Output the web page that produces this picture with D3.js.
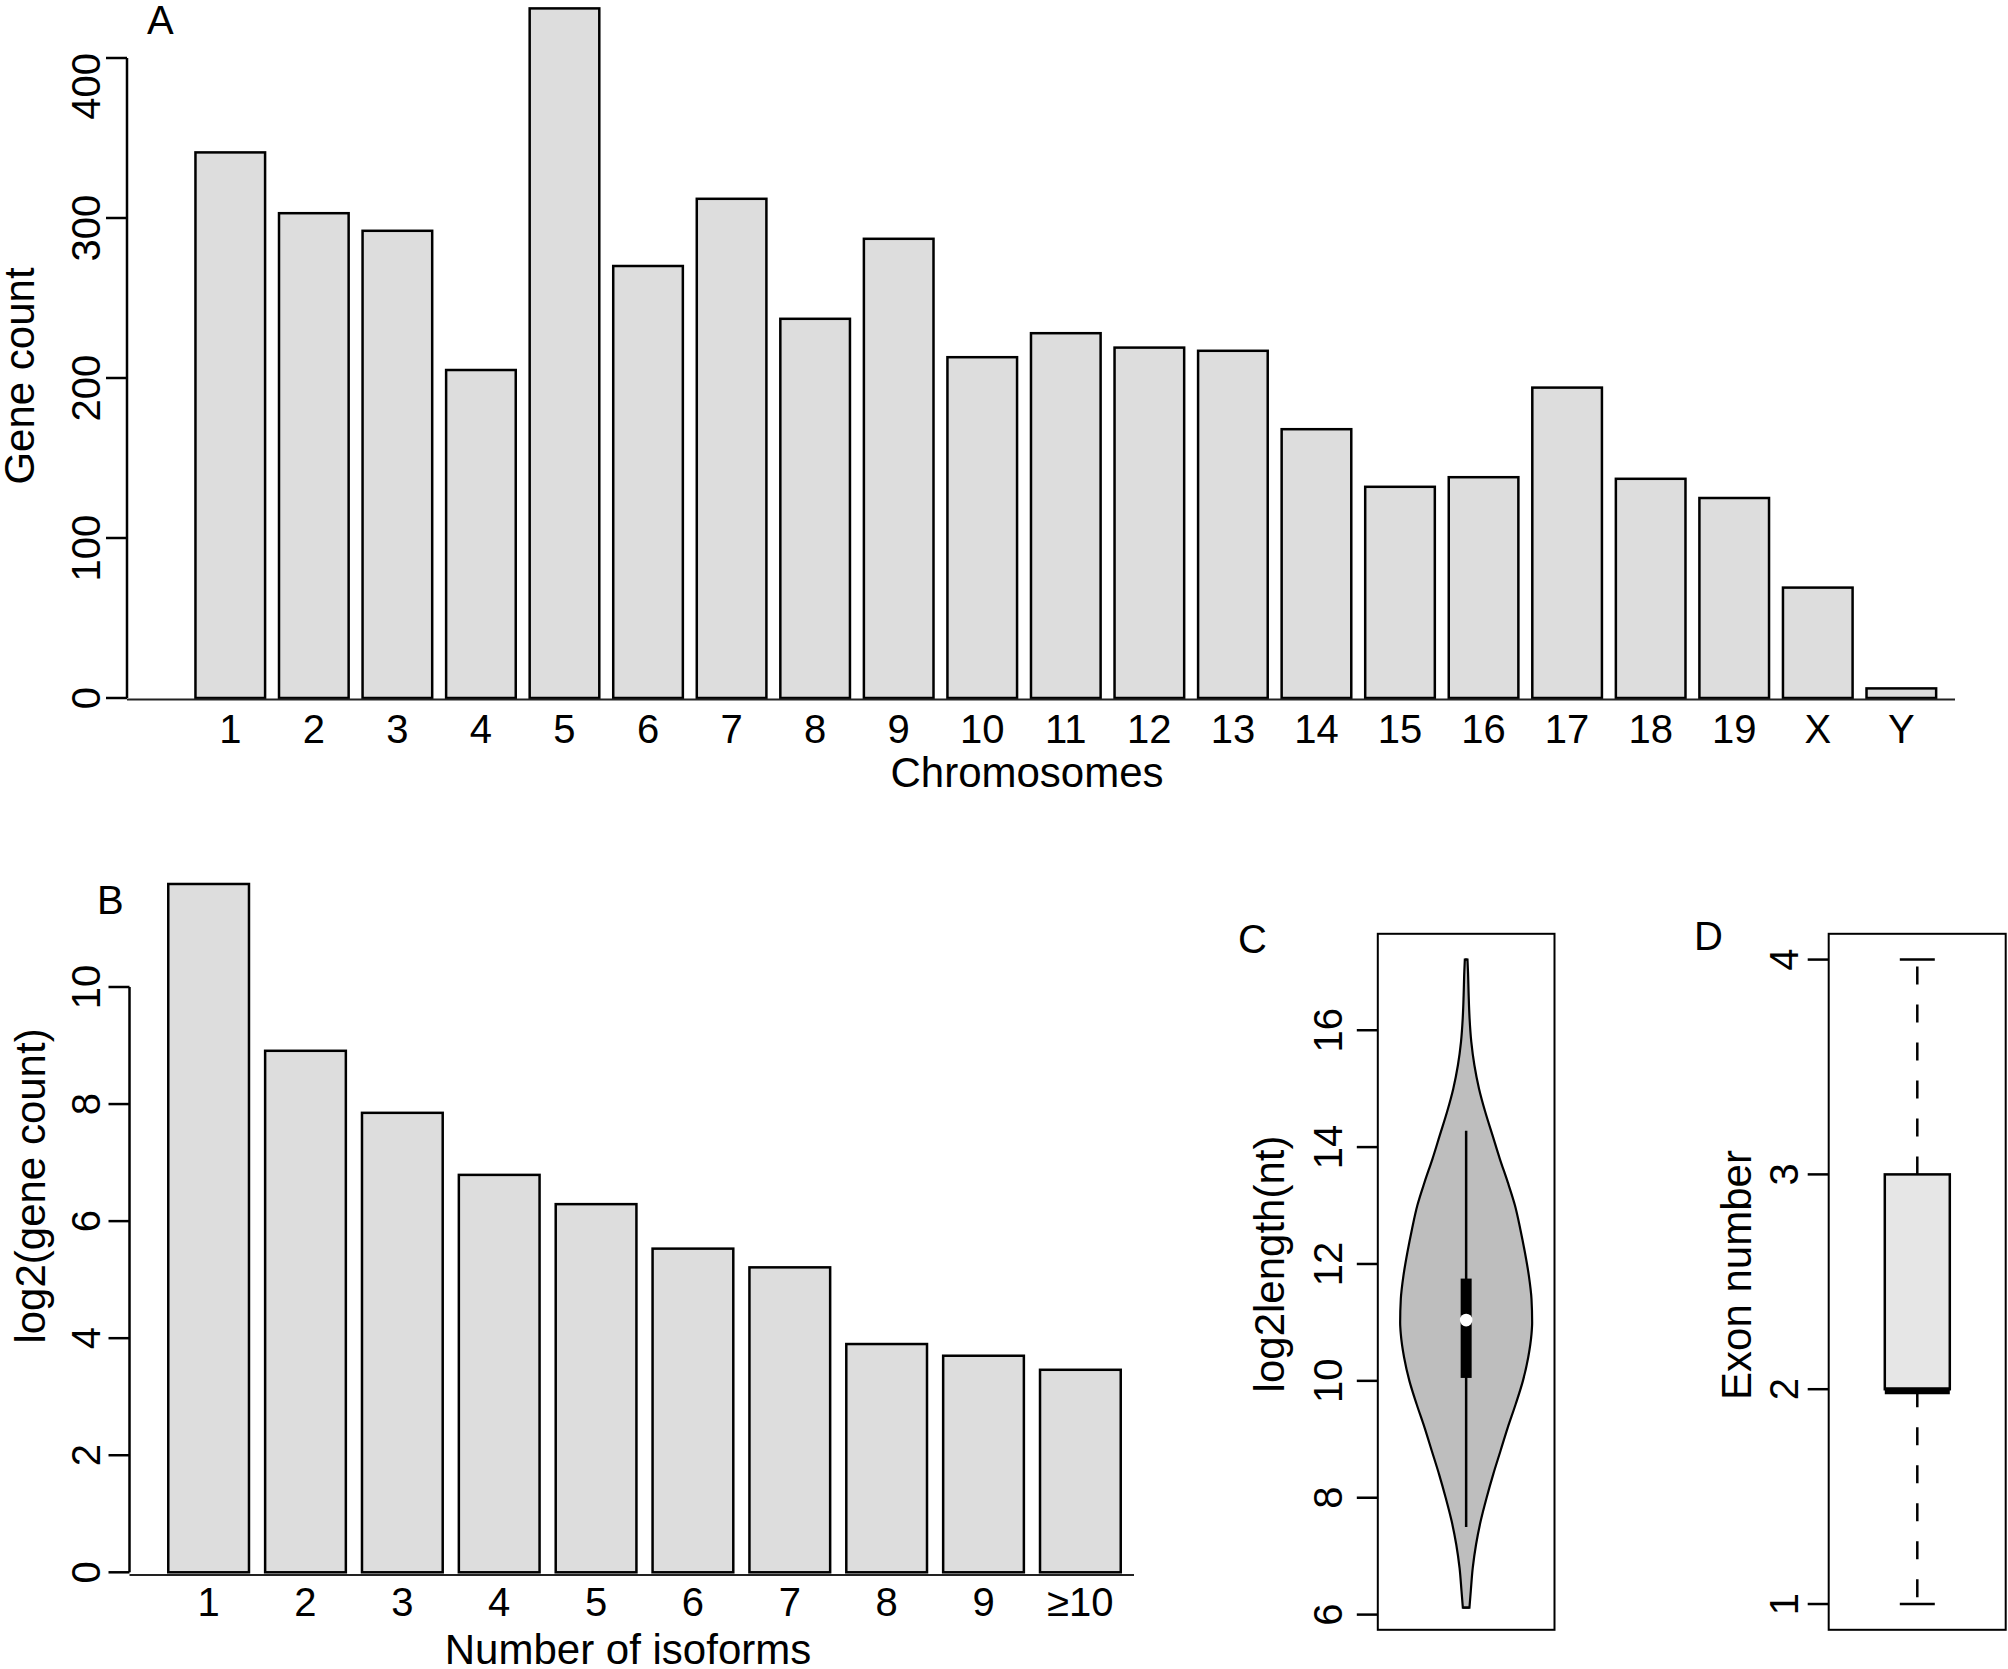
<!DOCTYPE html>
<html>
<head>
<meta charset="utf-8">
<script src="https://cdn.jsdelivr.net/npm/d3@7"></script>
<style>
  html, body { margin: 0; padding: 0; background: #fff; }
  svg { display: block; font-family: "Liberation Sans", Arial, Helvetica, sans-serif; }
</style>
</head>
<body>
<svg id="chart" width="2008" height="1669"></svg>
<script>
// ---------------- DATA ----------------
const chromosomes = ["1","2","3","4","5","6","7","8","9","10","11","12","13","14","15","16","17","18","19","X","Y"];
const geneCounts  = [341, 303, 292, 205, 431, 270, 312, 237, 287, 213, 228, 219, 217, 168, 132, 138, 194, 137, 125, 69, 6];
const countTicks  = [0, 100, 200, 300, 400];

const isoformLabels   = ["1","2","3","4","5","6","7","8","9","\u226510"];
const log2GeneCounts  = [11.76, 8.91, 7.85, 6.79, 6.29, 5.53, 5.21, 3.90, 3.70, 3.46];
const log2CountTicks  = [0, 2, 4, 6, 8, 10];

// violin of log2 transcript length: evaluation points and relative density
const violinLog2Length = [6.12, 6.4, 6.8, 7.2, 7.6, 8.0, 8.4, 8.8, 9.2, 9.6, 10.0, 10.4, 10.8, 11.0,
                          11.4, 11.8, 12.2, 12.6, 13.0, 13.4, 13.8, 14.2, 14.6, 15.0, 15.4, 15.8, 16.2, 16.6, 17.0, 17.21];
const violinDensity    = [0.05, 0.07, 0.10, 0.15, 0.22, 0.31, 0.41, 0.52, 0.63, 0.75, 0.86, 0.94, 0.99, 1.0,
                          0.99, 0.95, 0.89, 0.82, 0.74, 0.63, 0.51, 0.40, 0.29, 0.195, 0.125, 0.078, 0.052, 0.038, 0.028, 0.02];
const lengthSummary    = [7.5, 10.05, 11.04, 11.75, 14.28];   // whisker low, q1, median, q3, whisker high
const lengthTicks      = [6, 8, 10, 12, 14, 16];

const exonSummary = [1, 2, 2, 3, 4];   // min, q1, median, q3, max
const exonTicks   = [1, 2, 3, 4];

// ---------------- STYLE ----------------
const FONT_TICK = 40, FONT_LAB = 42, FONT_PANEL = 40;
const BAR_FILL = "#dddddd", VIOLIN_FILL = "#bebebe", BOX_FILL = "#e6e6e6";
const LW = 2.5;

const svg = d3.select("#chart");

function rotLabel(g, x, y, txt, size) {
  return g.append("text")
    .attr("transform", `translate(${x},${y}) rotate(-90)`)
    .attr("text-anchor", "middle")
    .attr("font-size", size)
    .text(txt);
}
function label(g, x, y, txt, size, anchor) {
  return g.append("text").attr("x", x).attr("y", y)
    .attr("text-anchor", anchor || "middle")
    .attr("font-size", size).text(txt);
}
function yTicks(g, scale, ticks, axisX, labelX, fmt, shiftFn) {
  ticks.forEach(t => {
    const y = scale(t);
    g.append("line").attr("x1", axisX - 21).attr("x2", axisX).attr("y1", y).attr("y2", y)
      .attr("stroke", "#000").attr("stroke-width", LW);
    const tx = rotLabel(g, labelX, y, fmt ? fmt(t) : String(t), FONT_TICK);
    if (shiftFn) {
      const w = tx.node().getComputedTextLength();
      const cy = shiftFn(t, y, w);
      tx.attr("transform", `translate(${labelX},${cy}) rotate(-90)`);
    }
  });
}

// ================= PANEL A =================
(function () {
  const g = svg.append("g");
  const y = d3.scaleLinear().domain([0, 400]).range([698, 58]);
  const x = d3.scaleBand().domain(chromosomes).range([188.5, 1943.1])
    .paddingInner(0.1667).paddingOuter(0.0833);

  g.selectAll("rect.bar").data(chromosomes).enter().append("rect")
    .attr("x", d => x(d))
    .attr("width", x.bandwidth())
    .attr("y", (d, i) => y(geneCounts[i]))
    .attr("height", (d, i) => y(0) - y(geneCounts[i]))
    .attr("fill", BAR_FILL).attr("stroke", "#000").attr("stroke-width", LW);

  // baseline
  g.append("line").attr("x1", 127).attr("x2", 1955).attr("y1", 699.5).attr("y2", 699.5)
    .attr("stroke", "#222").attr("stroke-width", 2);
  // y axis
  g.append("line").attr("x1", 127).attr("x2", 127).attr("y1", y(400)).attr("y2", y(0))
    .attr("stroke", "#000").attr("stroke-width", LW);
  yTicks(g, y, countTicks, 127, 100, null, (t, yy, w) => {
    let cy = t === 0 ? yy : yy + 10;
    if (cy - w / 2 < 53) cy = 53 + w / 2;
    return cy;
  });

  chromosomes.forEach(c => label(g, x(c) + x.bandwidth() / 2, 743, c, FONT_TICK));
  label(g, 1027, 787, "Chromosomes", FONT_LAB);
  rotLabel(g, 34, 376, "Gene count", FONT_LAB);
  label(g, 147, 34, "A", FONT_PANEL, "start");
})();

// ================= PANEL B =================
(function () {
  const g = svg.append("g");
  const y = d3.scaleLinear().domain([0, 10]).range([1572.3, 987]);
  const x = d3.scaleBand().domain(isoformLabels).range([160.2, 1128.8])
    .paddingInner(0.1667).paddingOuter(0.0833);

  g.selectAll("rect.bar").data(isoformLabels).enter().append("rect")
    .attr("x", d => x(d))
    .attr("width", x.bandwidth())
    .attr("y", (d, i) => y(log2GeneCounts[i]))
    .attr("height", (d, i) => y(0) - y(log2GeneCounts[i]))
    .attr("fill", BAR_FILL).attr("stroke", "#000").attr("stroke-width", LW);

  g.append("line").attr("x1", 129.5).attr("x2", 1134).attr("y1", 1575).attr("y2", 1575)
    .attr("stroke", "#222").attr("stroke-width", 2);
  g.append("line").attr("x1", 129.5).attr("x2", 129.5).attr("y1", y(10)).attr("y2", y(0))
    .attr("stroke", "#000").attr("stroke-width", LW);
  yTicks(g, y, log2CountTicks, 129.5, 100);

  isoformLabels.forEach(c => label(g, x(c) + x.bandwidth() / 2, 1616, c, FONT_TICK));
  label(g, 628, 1664, "Number of isoforms", FONT_LAB);
  rotLabel(g, 45, 1186, "log2(gene count)", FONT_LAB);
  label(g, 97, 914, "B", FONT_PANEL, "start");
})();

// ================= PANEL C (violin) =================
(function () {
  const g = svg.append("g");
  const x0 = 1377.8, x1 = 1554.5, y0 = 933.8, y1 = 1629.8;
  const y = d3.scaleLinear().domain([5.74, 17.65]).range([y1, y0]);
  const cx = (x0 + x1) / 2;
  const w = d3.scaleLinear().domain([0, 1]).range([0, 66]);

  const pts = violinLog2Length.map((v, i) => ({ v, d: violinDensity[i] }));
  const area = d3.area()
    .y(p => y(p.v))
    .x0(p => cx - w(p.d))
    .x1(p => cx + w(p.d))
    .curve(d3.curveMonotoneY);
  g.append("path").attr("d", area(pts))
    .attr("fill", VIOLIN_FILL).attr("stroke", "#000").attr("stroke-width", 2.2);
  // close ends
  [pts[0], pts[pts.length - 1]].forEach(p => {
    g.append("line").attr("x1", cx - w(p.d)).attr("x2", cx + w(p.d))
      .attr("y1", y(p.v)).attr("y2", y(p.v)).attr("stroke", "#000").attr("stroke-width", 2.2);
  });

  const [lo, q1, med, q3, hi] = lengthSummary;
  g.append("line").attr("x1", cx).attr("x2", cx).attr("y1", y(hi)).attr("y2", y(lo))
    .attr("stroke", "#000").attr("stroke-width", LW);
  g.append("rect").attr("x", cx - 5.5).attr("width", 11)
    .attr("y", y(q3)).attr("height", y(q1) - y(q3)).attr("fill", "#000");
  g.append("circle").attr("cx", cx).attr("cy", y(med)).attr("r", 6.3).attr("fill", "#fff");

  g.append("rect").attr("x", x0).attr("y", y0).attr("width", x1 - x0).attr("height", y1 - y0)
    .attr("fill", "none").attr("stroke", "#000").attr("stroke-width", 2);
  yTicks(g, y, lengthTicks, x0, 1342);
  rotLabel(g, 1284, 1264, "log2length(nt)", FONT_LAB);
  label(g, 1238, 953, "C", FONT_PANEL, "start");
})();

// ================= PANEL D (boxplot) =================
(function () {
  const g = svg.append("g");
  const x0 = 1828.7, x1 = 2005.7, y0 = 933.8, y1 = 1629.8;
  const y = d3.scaleLinear().domain([0.88, 4.12]).range([y1, y0]);
  const cx = 1917.3, bw = 32.5, cw = 17.5;
  const [mn, q1, med, q3, mx] = exonSummary;

  g.append("line").attr("x1", cx).attr("x2", cx).attr("y1", y(q3)).attr("y2", y(mx))
    .attr("stroke", "#000").attr("stroke-width", LW).attr("stroke-dasharray", "18,20");
  g.append("line").attr("x1", cx).attr("x2", cx).attr("y1", y(q1)).attr("y2", y(mn))
    .attr("stroke", "#000").attr("stroke-width", LW).attr("stroke-dasharray", "18,20");
  [mn, mx].forEach(v => g.append("line").attr("x1", cx - cw).attr("x2", cx + cw)
    .attr("y1", y(v)).attr("y2", y(v)).attr("stroke", "#000").attr("stroke-width", LW));
  g.append("rect").attr("x", cx - bw).attr("width", 2 * bw)
    .attr("y", y(q3)).attr("height", y(q1) - y(q3))
    .attr("fill", BOX_FILL).attr("stroke", "#000").attr("stroke-width", LW);
  g.append("line").attr("x1", cx - bw).attr("x2", cx + bw).attr("y1", y(med) + 1.5).attr("y2", y(med) + 1.5)
    .attr("stroke", "#000").attr("stroke-width", 7);

  g.append("rect").attr("x", x0).attr("y", y0).attr("width", x1 - x0).attr("height", y1 - y0)
    .attr("fill", "none").attr("stroke", "#000").attr("stroke-width", 2);
  yTicks(g, y, exonTicks, x0, 1798);
  rotLabel(g, 1751, 1275, "Exon number", FONT_LAB);
  label(g, 1694, 950, "D", FONT_PANEL, "start");
})();
</script>
</body>
</html>
